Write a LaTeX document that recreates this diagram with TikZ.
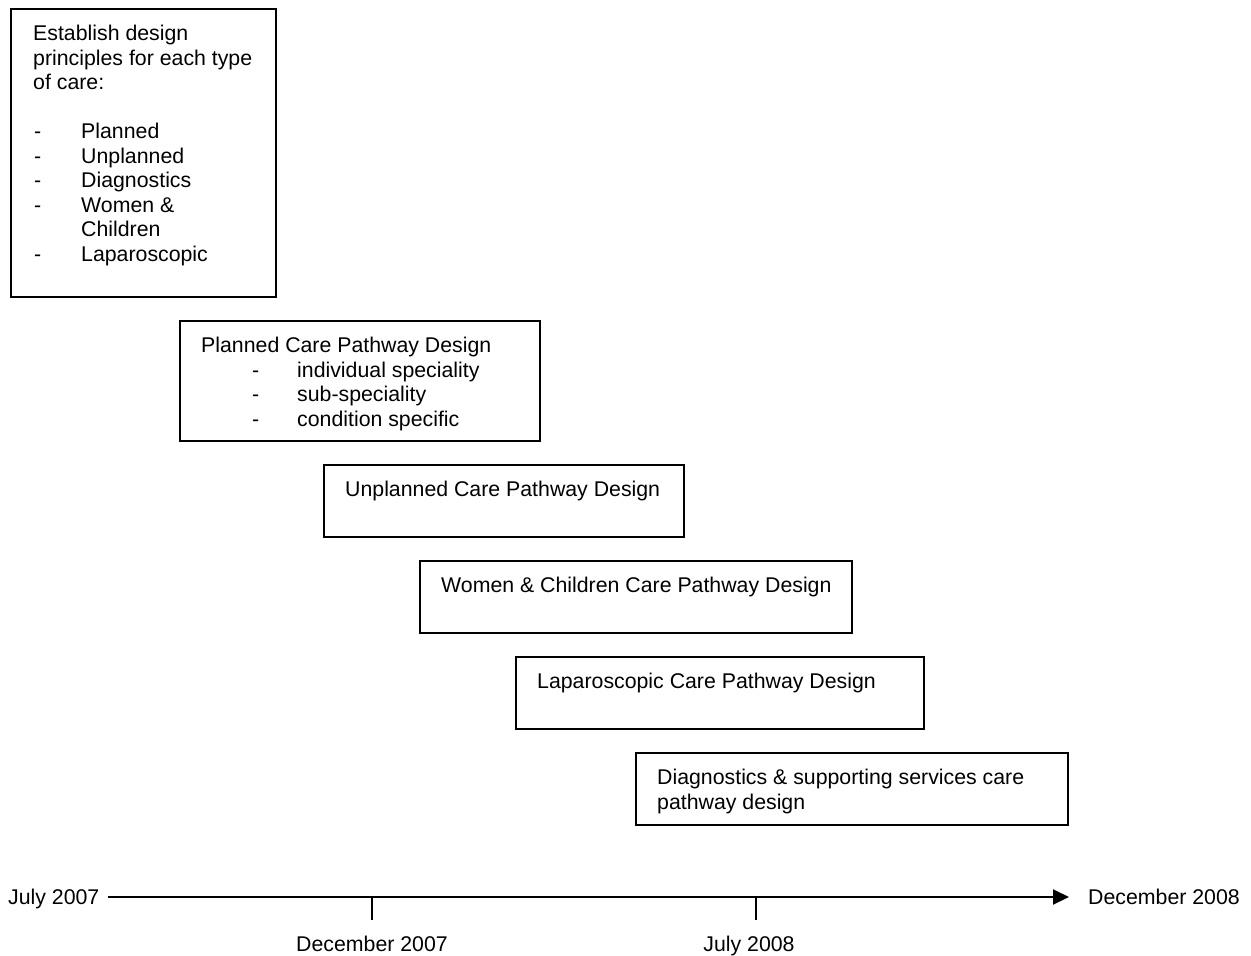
\documentclass[tikz,border=0pt]{standalone}
\usepackage{fontspec}
\setmainfont{Liberation Sans}
\usetikzlibrary{arrows.meta}
\begin{document}
\begin{tikzpicture}[x=1pt,y=-1pt,
  box/.style={draw=black,line width=1.6pt,anchor=north west,inner sep=0pt,outer sep=0pt},
  txt/.style={anchor=base west,inner sep=0pt,font=\fontsize{21.3}{24.5}\selectfont},
  ctxt/.style={anchor=base,inner sep=0pt,font=\fontsize{21.3}{24.5}\selectfont},
  axis/.style={line width=2pt},
  tick/.style={line width=1.6pt}]
\useasboundingbox (0,0) rectangle (1251,956);
% box 1
\node[box,minimum width=265pt,minimum height=288pt] (b1) at (11,9) {};
\node[txt] (t1a) at (33,40.5) {Establish design};
\node[txt] (t1b) at (33,65) {principles for each type};
\node[txt] (t1c) at (33,89.5) {of care:};
\node[txt] (d1a) at (34,138.5) {-};
\node[txt] (i1a) at (81,138.5) {Planned};
\node[txt] (d1b) at (34,163) {-};
\node[txt] (i1b) at (81,163) {Unplanned};
\node[txt] (d1c) at (34,187.5) {-};
\node[txt] (i1c) at (81,187.5) {Diagnostics};
\node[txt] (d1d) at (34,212) {-};
\node[txt] (i1d) at (81,212) {Women \&};
\node[txt] (i1e) at (81,236.5) {Children};
\node[txt] (d1f) at (34,261) {-};
\node[txt] (i1f) at (81,261) {Laparoscopic};
% box 2
\node[box,minimum width=360pt,minimum height=120pt] (b2) at (180,321) {};
\node[txt] (t2) at (201,352.5) {Planned Care Pathway Design};
\node[txt] (d2a) at (252,377) {-};
\node[txt] (i2a) at (297,377) {individual speciality};
\node[txt] (d2b) at (252,401.5) {-};
\node[txt] (i2b) at (297,401.5) {sub-speciality};
\node[txt] (d2c) at (252,426) {-};
\node[txt] (i2c) at (297,426) {condition specific};
% box 3
\node[box,minimum width=360pt,minimum height=72pt] (b3) at (324,465) {};
\node[txt] (t3) at (345,496.5) {Unplanned Care Pathway Design};
% box 4
\node[box,minimum width=432pt,minimum height=72pt] (b4) at (420,561) {};
\node[txt] (t4) at (441,592.5) {Women \& Children Care Pathway Design};
% box 5
\node[box,minimum width=408pt,minimum height=72pt] (b5) at (516,657) {};
\node[txt] (t5) at (537,688.5) {Laparoscopic Care Pathway Design};
% box 6
\node[box,minimum width=432pt,minimum height=72pt] (b6) at (636,753) {};
\node[txt] (t6a) at (657,784.5) {Diagnostics \& supporting services care};
\node[txt] (t6b) at (657,809) {pathway design};
% timeline
\node[txt] (l0) at (8,904.5) {July 2007};
\node[txt] (l3) at (1088,904.5) {December 2008};
\coordinate (a0) at (108,897);
\coordinate (a1) at (1069,897);
\draw[axis,-{Triangle[length=16pt,width=15pt]}] (a0) -- (a1);
\coordinate (k1a) at (372,897);
\coordinate (k1b) at (372,920);
\coordinate (k2a) at (756,897);
\coordinate (k2b) at (756,920);
\draw[tick] (k1a) -- (k1b);
\draw[tick] (k2a) -- (k2b);
\node[ctxt] (l1) at (372,951.5) {December 2007};
\node[ctxt] (l2) at (749,951.5) {July 2008};
\end{tikzpicture}
\end{document}
